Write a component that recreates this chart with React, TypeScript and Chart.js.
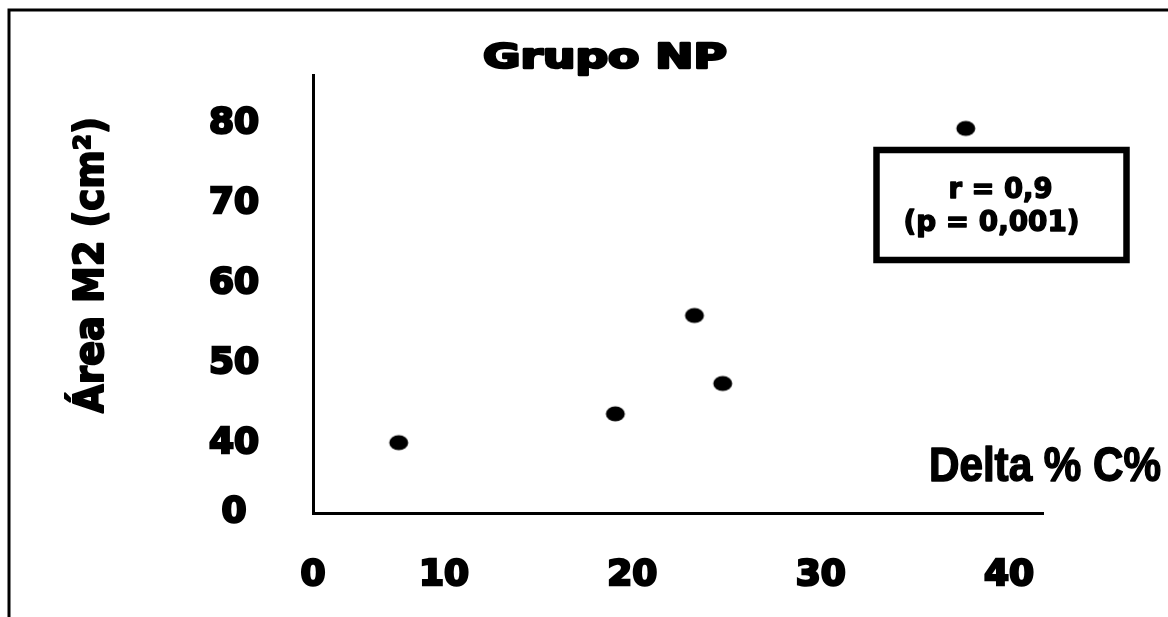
import React, { useEffect, useRef } from "react";
import { Chart, registerables } from "chart.js";

Chart.register(...registerables);

// ---- data ----
const deltaC = [7.6, 19.1, 23.3, 24.8, 37.7];
const areaM2 = [40.1, 43.7, 56.0, 47.5, 79.4];

// broken axes: the "0" label sits at each axis origin
const xAxisMin = 3.05;
const xAxisMax = 41.8;
const yAxisMin = 31.3;
const yAxisMax = 86;
const xTickValues = [xAxisMin, 10, 20, 30, 40];
const xTickLabels = ["0", "10", "20", "30", "40"];
const yTickValues = [yAxisMin, 40, 50, 60, 70, 80];
const yTickLabels = ["0", "40", "50", "60", "70", "80"];

const titleText = "Grupo NP";
const yTitleText = "Área M2 (cm²)";
const xTitleText = "Delta % C%";
const statLines = ["r = 0,9", "(p = 0,001)"];

const BOLD_SANS = '"DejaVu Sans"';

function fitText(
  ctx: CanvasRenderingContext2D,
  text: string,
  x: number,
  y: number,
  font: string,
  targetW: number,
  rot = 0,
  stroke = 1.5
) {
  ctx.save();
  ctx.font = font;
  const w = ctx.measureText(text).width;
  ctx.translate(x, y);
  ctx.rotate(rot);
  ctx.scale(targetW / w, 1);
  ctx.textAlign = "center";
  ctx.textBaseline = "alphabetic";
  ctx.fillStyle = "#000";
  ctx.strokeStyle = "#000";
  ctx.lineJoin = "round";
  if (stroke > 0) {
    ctx.lineWidth = stroke;
    ctx.strokeText(text, 0, 0);
  }
  ctx.fillText(text, 0, 0);
  ctx.restore();
}

const annotations = {
  id: "annotations",
  afterDraw(chart: any) {
    const ctx: CanvasRenderingContext2D = chart.ctx;
    // outer frame (top + left)
    ctx.save();
    ctx.strokeStyle = "#000";
    ctx.lineWidth = 3;
    ctx.beginPath();
    ctx.moveTo(1168, 10);
    ctx.lineTo(9, 10);
    ctx.lineTo(9, 617);
    ctx.stroke();
    ctx.restore();

    // title
    fitText(ctx, titleText, 605, 68, `bold 34px ${BOLD_SANS}`, 244, 0, 2.5);
    // y title (rotated)
    fitText(ctx, yTitleText, 103, 265, `bold 40px ${BOLD_SANS}`, 296, -Math.PI / 2, 2);
    // x title
    fitText(ctx, xTitleText, 1045, 481, 'bold 48px "Liberation Sans"', 232, 0, 1.5);

    // stats box
    ctx.save();
    ctx.strokeStyle = "#000";
    ctx.lineWidth = 6.5;
    ctx.strokeRect(876.5, 150, 250, 110);
    ctx.restore();
    fitText(ctx, statLines[0], 1000.5, 198, `bold 29px ${BOLD_SANS}`, 104, 0, 1.5);
    fitText(ctx, statLines[1], 991.5, 231, `bold 29px ${BOLD_SANS}`, 176, 0, 1.5);
  },
};

function makeDot(): HTMLCanvasElement {
  const c = document.createElement("canvas");
  c.width = 22;
  c.height = 18;
  const g = c.getContext("2d")!;
  g.fillStyle = "#000";
  g.beginPath();
  g.ellipse(11, 9, 9.5, 7.5, 0, 0, Math.PI * 2);
  g.fill();
  return c;
}

export default function App() {
  const ref = useRef<HTMLCanvasElement | null>(null);

  useEffect(() => {
    document.body.style.margin = "0";
    document.body.style.background = "#fff";
    const canvas = ref.current!;
    const dot = makeDot();
    const tickFont = { family: BOLD_SANS, size: 36, weight: "bold" as const };

    const chart = new Chart(canvas, {
      type: "scatter",
      data: {
        datasets: [
          {
            label: "Grupo NP",
            data: deltaC.map((x, i) => ({ x, y: areaM2[i] })),
            pointStyle: dot as any,
            pointRadius: 9,
            pointHoverRadius: 9,
            backgroundColor: "#000",
            borderColor: "#000",
          },
        ],
      },
      options: {
        responsive: false,
        animation: false,
        events: [],
        layout: { padding: { top: 70, right: 125, bottom: 0, left: 0 } },
        plugins: {
          legend: { display: false },
          title: { display: false },
          tooltip: { enabled: false },
        },
        scales: {
          x: {
            type: "linear",
            min: xAxisMin,
            max: xAxisMax,
            grid: { display: false, drawTicks: false },
            border: { display: true, color: "#000", width: 3 },
            afterBuildTicks: (scale: any) => {
              scale.ticks = xTickValues.map((v) => ({ value: v }));
            },
            afterFit: (scale: any) => {
              scale.height = 104;
            },
            ticks: {
              autoSkip: false,
              maxRotation: 0,
              padding: 41,
              color: "#000",
              textStrokeColor: "#000",
              textStrokeWidth: 2.5,
              font: tickFont,
              callback: (_v: any, i: number) => xTickLabels[i],
            },
          },
          y: {
            type: "linear",
            min: yAxisMin,
            max: yAxisMax,
            grid: { display: false, drawTicks: false },
            border: { display: true, color: "#000", width: 3 },
            afterBuildTicks: (scale: any) => {
              scale.ticks = yTickValues.map((v) => ({ value: v }));
            },
            afterFit: (scale: any) => {
              scale.width = 313;
            },
            ticks: {
              autoSkip: false,
              padding: 54,
              crossAlign: "center",
              color: "#000",
              textStrokeColor: "#000",
              textStrokeWidth: 2.5,
              font: tickFont,
              callback: (_v: any, i: number) => yTickLabels[i],
            },
          },
        },
      },
      plugins: [annotations],
    });
    return () => chart.destroy();
  }, []);

  return (
    <div style={{ width: 1168, height: 617, background: "#fff" }}>
      <canvas ref={ref} width={1168} height={617} style={{ display: "block" }} />
    </div>
  );
}
